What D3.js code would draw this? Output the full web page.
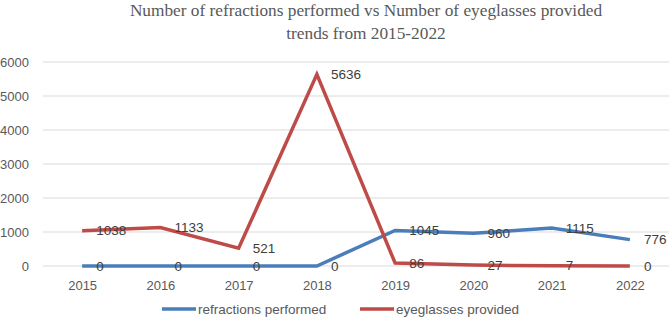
<!DOCTYPE html>
<html><head><meta charset="utf-8">
<script src="https://cdn.jsdelivr.net/npm/d3@7"></script>
<style>
html,body{margin:0;padding:0;background:#fff;}
svg{display:block;}
</style></head>
<body>
<script>
const years = ["2015","2016","2017","2018","2019","2020","2021","2022"];
const refractions = [0,0,0,0,1045,960,1115,776];
const eyeglasses = [1038,1133,521,5636,86,27,7,0];
const yTicks = [0,1000,2000,3000,4000,5000,6000];
const seriesNames = ["refractions performed","eyeglasses provided"];
const seriesColors = ["#4A7EBB","#BE4B48"];
const titleLines = ["Number of refractions performed vs Number of eyeglasses provided","trends from 2015-2022"];

const W = 669, H = 326;
const svg = d3.select("body").append("svg").attr("width",W).attr("height",H);

const x = d3.scalePoint().domain(years).range([43,669]).padding(0.5);
const y = d3.scaleLinear().domain([0,6000]).range([266,62]);

// title
svg.append("g").selectAll("text").data(titleLines).join("text")
  .attr("x",366).attr("y",(d,i)=>16+i*23)
  .attr("text-anchor","middle")
  .attr("font-family","'Liberation Serif', serif")
  .attr("font-size",17.3)
  .attr("fill","#595959")
  .text(d=>d);

// gridlines
svg.append("g").selectAll("line").data(yTicks).join("line")
  .attr("x1",43).attr("x2",669)
  .attr("y1",d=>y(d)).attr("y2",d=>y(d))
  .attr("stroke","#D9D9D9").attr("stroke-width",1);

// y axis labels
const yAxis = d3.axisLeft(y).tickValues(yTicks).tickFormat(d3.format("d")).tickSize(0).tickPadding(0);
const gy = svg.append("g").attr("transform","translate(29,0)").call(yAxis);
gy.select(".domain").remove();
gy.selectAll("text").attr("font-family","'Liberation Sans', sans-serif").attr("font-size",13).attr("fill","#595959");

// x axis labels
const xAxis = d3.axisBottom(x).tickSize(0).tickPadding(0);
const gx = svg.append("g").attr("transform","translate(0,281)").call(xAxis);
gx.select(".domain").remove();
gx.selectAll("text").attr("font-family","'Liberation Sans', sans-serif").attr("font-size",13).attr("fill","#595959");

const series = [refractions, eyeglasses];
const line = d3.line().x((d,i)=>x(years[i])).y(d=>y(d));

series.forEach((s,k)=>{
  svg.append("path").datum(s)
    .attr("d",line)
    .attr("fill","none")
    .attr("stroke",seriesColors[k])
    .attr("stroke-width",3.5)
    .attr("stroke-linejoin","miter");
});
series.forEach((s,k)=>{
  svg.append("g").selectAll("text").data(s).join("text")
    .attr("x",(d,i)=>x(years[i])+14)
    .attr("y",d=>y(d))
    .attr("dy","0.35em")
    .attr("font-family","'Liberation Sans', sans-serif")
    .attr("font-size",13.5)
    .attr("fill","#404040")
    .text(d=>d);
});

// legend
const legendItems = [{x:162},{x:360}];
legendItems.forEach((it,k)=>{
  const g = svg.append("g").attr("transform",`translate(${it.x},309)`);
  g.append("line").attr("x1",0).attr("x2",34).attr("y1",0).attr("y2",0)
    .attr("stroke",seriesColors[k]).attr("stroke-width",3.5);
  g.append("text").attr("x",36).attr("y",0).attr("dy","0.35em")
    .attr("font-family","'Liberation Sans', sans-serif").attr("font-size",13.5)
    .attr("fill","#595959").text(seriesNames[k]);
});
</script>
</body></html>
